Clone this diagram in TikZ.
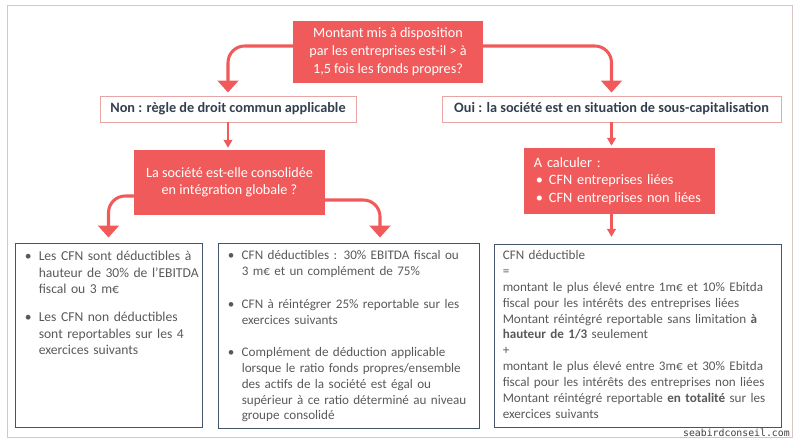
\documentclass[tikz,border=0pt]{standalone}
\usepackage{fontspec}
\setmainfont{Carlito}
\setmonofont{DejaVu Sans Mono}
\usetikzlibrary{arrows.meta,positioning}
\usepackage{xcolor}

\definecolor{rouge}{HTML}{F15A5A}
\definecolor{rose}{HTML}{E8A5A5}
\definecolor{cadre}{HTML}{D9C4C4}
\definecolor{ardoise}{HTML}{44546A}
\definecolor{texte}{HTML}{595959}
\definecolor{titre}{HTML}{333F50}

% puce avec retrait suspendu
\newcommand{\puce}[2][0.42cm]{\par\noindent\makebox[#1][l]{\textbullet}%
  \parbox[t]{\dimexpr\hsize-#1\relax}{\raggedright #2}\par}

\tikzset{
  question/.style={fill=rouge, text=white, align=center, inner sep=0pt},
  reponse/.style={draw=rose, line width=0.8pt, text=titre, inner sep=0pt,
    font=\bfseries\fontsize{12.2}{14}\selectfont},
  boite/.style={draw=ardoise, line width=0.8pt, inner sep=0pt},
  contenu/.style={text=texte, align=left, inner sep=0pt, anchor=north west,
    font=\fontsize{11.2}{13.5}\selectfont},
  grosse/.style={rouge, line width=2.6pt, rounded corners=0.5cm,
    -{Triangle[width=0.62cm,length=0.36cm]}},
  petite/.style={rouge, line width=1.8pt, -{Triangle[width=0.26cm,length=0.24cm]}}
}

\begin{document}
\begin{tikzpicture}[x=0.03cm, y=-0.03cm]
    \useasboundingbox (0,0) rectangle (800,447);
    \draw [cadre, line width=0.6pt] (7,5) rectangle (792,437);

    % questions et reponses
    \node [question, minimum width=5.7cm, minimum height=1.86cm,
      font=\fontsize{12.1}{15.4}\selectfont] (seuil) at (388,52)
      {Montant mis à disposition\\par les entreprises est-il > à\\1,5 fois les fonds propres?};
    \node [reponse, minimum width=7.68cm, minimum height=0.78cm] (non) at (228,109)
      {Non : règle de droit commun applicable};
    \node [reponse, minimum width=10.17cm, minimum height=0.78cm] (oui) at (611.5,109)
      {Oui : la société est en situation de sous-capitalisation};
    \node [question, minimum width=5.73cm, minimum height=1.95cm,
      font=\fontsize{12.1}{14.5}\selectfont] (conso) at (229.5,182.5)
      {La société est-elle consolidée\\en intégration globale ?};
    \node [question, text width=5.13cm, inner xsep=0.3cm, align=left, minimum height=1.98cm,
      font=\fontsize{12.2}{14.9}\selectfont] (calcul) at (619.5,181)
      {A calculer :\\
       \hspace*{0.06cm}\makebox[0.39cm][l]{\textbullet}CFN entreprises liées\\
       \hspace*{0.06cm}\makebox[0.39cm][l]{\textbullet}CFN entreprises non liées};

    % cadres du bas
    \node [boite, minimum width=5.61cm, minimum height=5.52cm] (gauche) at (108.5,335) {};
    \node [boite, minimum width=7.83cm, minimum height=5.55cm] (milieu) at (348.5,335.5) {};
    \node [boite, minimum width=8.61cm, minimum height=5.49cm] (droite) at (637.5,335.5) {};

    \node [contenu, text width=6.2cm, font=\fontsize{11.6}{14.2}\selectfont] (gtexte)
      at ([xshift=0.3cm, yshift=-0.03cm]gauche.north west)
      {\puce{Les CFN sont déductibles à\\hauteur de 30\% de l’EBITDA\\fiscal ou 3 m€}
       \vspace{0.52cm}
       \puce{Les CFN non déductibles\\sont reportables sur les 4\\exercices suivants}};
    \node [contenu, text width=7.4cm] (mtexte)
      at ([xshift=0.3cm, yshift=-0.03cm]milieu.north west)
      {\puce{CFN déductibles : 30\% EBITDA fiscal ou\\ 3 m€ et un complément de 75\%}
       \vspace{0.62cm}
       \puce{CFN à réintégrer 25\% reportable sur les\\exercices suivants}
       \vspace{0.66cm}
       \puce{Complément de déduction applicable\\lorsque le ratio fonds propres/ensemble\\des actifs de la société est égal ou\\supérieur à ce ratio déterminé au niveau\\groupe consolidé}};
    \node [contenu, text width=8.2cm] (dtexte)
      at ([xshift=0.27cm, yshift=-0.21cm]droite.north west)
      {CFN déductible\\
       =\\
       montant le plus élevé entre 1m€ et 10\% Ebitda\\
       fiscal pour les intérêts des entreprises liées\\
       Montant réintégré reportable sans limitation \textbf{à}\\
       \textbf{hauteur de 1/3} seulement\\
       +\\
       montant le plus élevé entre 3m€ et 30\% Ebitda\\
       fiscal pour les intérêts des entreprises non liées\\
       Montant réintégré reportable \textbf{en totalité} sur les\\
       exercices suivants};

    % fleches
    \draw [grosse, shorten >=0.09cm] ([yshift=0.18cm]seuil.west) -| (non.north);
    \draw [grosse, shorten >=0.09cm] ([yshift=0.18cm]seuil.east) -| (oui.north);
    \draw [petite, shorten >=0.06cm] (non.south) -- (non.south |- conso.north);
    \draw [petite, shorten >=0.06cm] (oui.south) -- (oui.south |- calcul.north);
    \draw [grosse, shorten >=0.15cm] ([yshift=-0.405cm]conso.west) -| (gauche.north);
    \draw [grosse, shorten >=0.15cm] ([yshift=-0.525cm]conso.east) -| ([xshift=0.945cm]milieu.north);
    \draw [petite, shorten >=0.2cm] (calcul.south -| oui.south) -- (oui.south |- droite.north);

    \node [font=\ttfamily\fontsize{8.4}{10}\selectfont, text=black!75, inner sep=0pt,
      anchor=east] (site) at (790,433) {seabirdconseil.com};
\end{tikzpicture}
\end{document}
